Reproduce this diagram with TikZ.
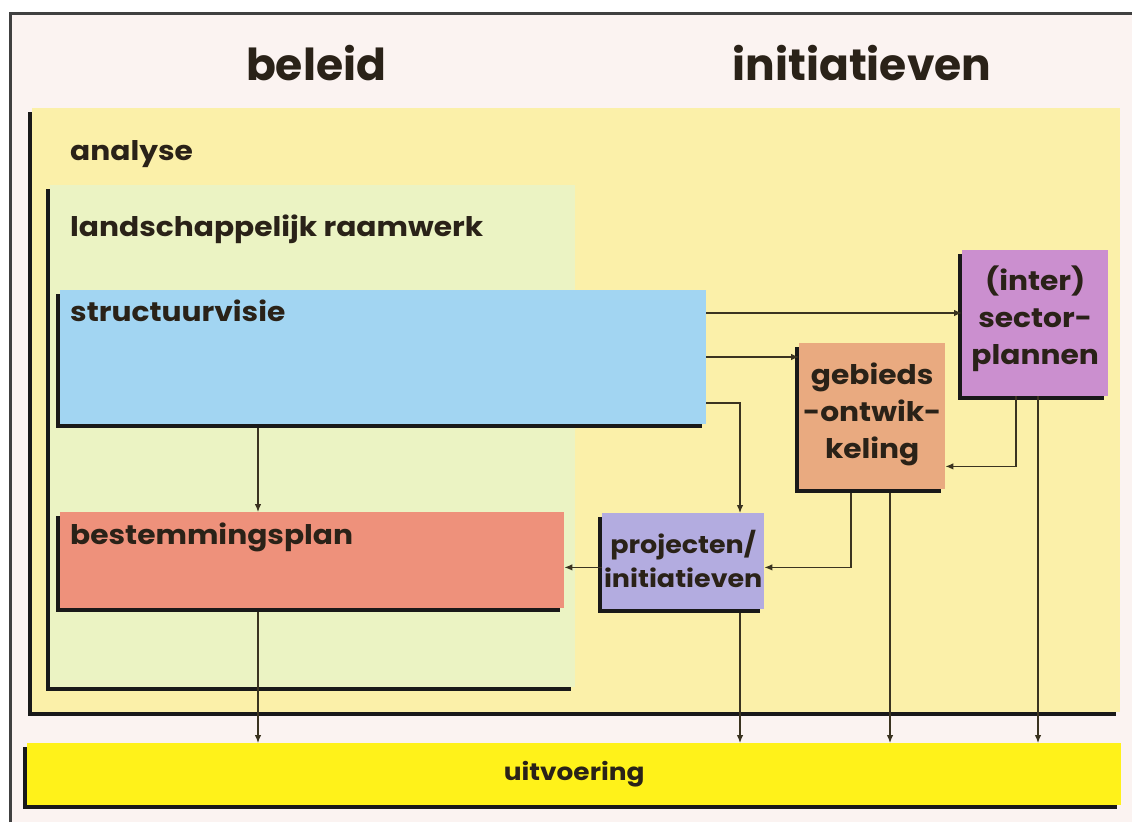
\documentclass[tikz,border=0pt]{standalone}
\usepackage{fontspec}
\setmainfont{Poppins}
\newfontfamily\lblfont[FakeStretch=1.1]{Poppins}
\usetikzlibrary{arrows.meta,shadows,calc}
\definecolor{bgc}{HTML}{FBF3F1}
\definecolor{anac}{HTML}{FBF0A9}
\definecolor{landc}{HTML}{EBF3C3}
\definecolor{svc}{HTML}{A2D5F2}
\definecolor{bpc}{HTML}{EE917B}
\definecolor{pic}{HTML}{B3ACE0}
\definecolor{goc}{HTML}{E9AA80}
\definecolor{spc}{HTML}{CB8FCF}
\definecolor{uvc}{HTML}{FFF21A}
\definecolor{txc}{HTML}{2A2218}
\definecolor{lnc}{HTML}{3A3320}
\tikzset{
  box/.style={draw=none, anchor=north west, inner sep=0pt,
    general shadow={fill=black!90, shadow xshift=-4pt, shadow yshift=-4pt}},
  lbl/.style={font=\lblfont\fontsize{27}{30}\selectfont\bfseries, text=txc, anchor=base west, inner sep=0pt},
  clbl/.style={font=\lblfont\fontsize{27}{37}\selectfont\bfseries, text=txc, align=center},
  title/.style={font=\fontsize{44}{50}\selectfont\bfseries, text=txc, anchor=base},
  arr/.style={draw=lnc, line width=1.2pt, -{Latex[length=8pt,width=6.5pt]}}
}
\begin{document}
\begin{tikzpicture}[x=1pt,y=-1pt]
\useasboundingbox (0,0) rectangle (1132,822);
\fill[white] (0,0) rectangle (1132,822);
\fill[bgc] (10,13) rectangle (1132,822);
\draw[black!75, line width=3pt] (10,822) -- (10,13) -- (1132,13);
% titles
\node[title] (tb) at (316,80) {beleid};
\node[title] (ti) at (862,80) {initiatieven};
% containers
\node[box, fill=anac, minimum width=1088pt, minimum height=604pt] (ana) at (32,108) {};
\node[lbl] (tana) at (70,160) {analyse};
\node[box, fill=landc, minimum width=525pt, minimum height=502pt] (land) at (50,185) {};
\node[lbl] (tland) at (70,236) {landschappelijk raamwerk};
% boxes
\node[box, fill=svc, minimum width=646pt, minimum height=134pt] (sv) at (60,290) {};
\node[lbl] (tsv) at (70,321) {structuurvisie};
\node[box, fill=bpc, minimum width=504pt, minimum height=96pt] (bp) at (60,512) {};
\node[lbl] (tbp) at (70,544) {bestemmingsplan};
\node[box, fill=pic, minimum width=162pt, minimum height=96pt] (pi) at (602,513) {};
\node[clbl, font=\lblfont\fontsize{24.5}{34}\selectfont\bfseries] (tpi) at ($(pi.center)+(0,-2)$) {projecten/\\initiatieven};
\node[box, fill=goc, minimum width=146pt, minimum height=146pt] (go) at (799,343) {};
\node[clbl] (tgo) at ($(go.center)+(0,-2)$) {gebieds\\-ontwik-\\keling};
\node[box, fill=spc, minimum width=146pt, minimum height=146pt] (sp) at (962,250) {};
\node[clbl] (tsp) at ($(sp.center)+(0,-4)$) {(inter)\\sector-\\plannen};
\node[box, fill=uvc, minimum width=1094pt, minimum height=62pt] (uv) at (27,743) {};
\node[font=\lblfont\fontsize{24}{26}\selectfont\bfseries, text=txc] (tuv) at (uv.center) {uitvoering};
% connectors
\coordinate (a1) at ($(sv.north east)+(0,23)$);
\draw[arr] (a1) -- (a1 -| sp.west);
\coordinate (a2) at ($(sv.north east)+(0,67)$);
\draw[arr] (a2) -- (a2 -| go.west);
\coordinate (a3) at ($(sv.north east)+(0,113)$);
\draw[arr] (a3) -| ($(pi.north west)+(138,0)$);
\coordinate (a4) at ($(sv.south west)+(198,4)$);
\draw[arr] (a4) -- (a4 |- bp.north);
\coordinate (a5) at ($(sp.south west)+(54,0)$);
\coordinate (a5e) at ($(go.south east)+(0,-23)$);
\draw[arr] (a5) |- (a5e);
\coordinate (a6) at ($(go.south west)+(52,4)$);
\coordinate (a6e) at ($(pi.south east)+(0,-42)$);
\draw[arr] (a6) |- (a6e);
\draw[arr] (a6e -| pi.west) -- (a6e -| bp.east);
\coordinate (b1) at ($(bp.south west)+(198,4)$);
\draw[arr] (b1) -- (b1 |- uv.north);
\coordinate (b2) at ($(pi.south west)+(138,4)$);
\draw[arr] (b2) -- (b2 |- uv.north);
\coordinate (b3) at ($(go.south west)+(91,4)$);
\draw[arr] (b3) -- (b3 |- uv.north);
\coordinate (b4) at ($(sp.south west)+(76,0)$);
\draw[arr] (b4) -- (b4 |- uv.north);
\end{tikzpicture}
\end{document}
